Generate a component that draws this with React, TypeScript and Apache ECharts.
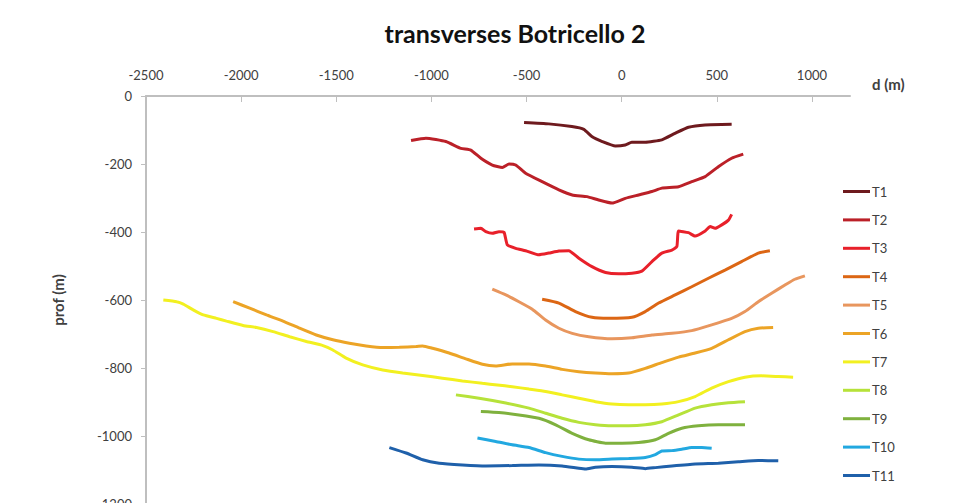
import React, { useEffect, useRef } from "react";
import * as echarts from "echarts";

const titleText = "transverses Botricello 2";
const xAxisName = "d (m)";
const yAxisName = "prof (m)";
const xTicks = [-2500, -2000, -1500, -1000, -500, 0, 500, 1000];
const yTicks = [0, -200, -400, -600, -800, -1000, -1200];
const names = ["T1", "T2", "T3", "T4", "T5", "T6", "T7", "T8", "T9", "T10", "T11"];
const colors = ["#6e1a1e", "#bb2028", "#e8202a", "#dc6614", "#e8965e", "#eca426", "#f2f020", "#b6e23a", "#7fb13e", "#22a8e0", "#1f60aa"];

const t1X = [-513, -383, -262, -199, -155, -102, -33, 19, 53, 124, 211, 280, 351, 438, 578];
const t1Y = [-78, -82, -90, -98, -120, -134, -147, -144, -136, -136, -129, -110, -92, -85, -83];

const t2X = [-1107, -1029, -924, -845, -793, -740, -680, -627, -592, -557, -505, -418, -330, -260, -182, -121, -51, 19, 89, 159, 211, 299, 368, 439, 508, 578, 639];
const t2Y = [-131, -124, -134, -154, -159, -183, -203, -210, -200, -203, -227, -252, -276, -291, -296, -306, -315, -301, -291, -281, -271, -267, -252, -237, -208, -183, -171];

const t3X = [-776, -740, -714, -680, -645, -618, -601, -557, -505, -435, -383, -330, -278, -225, -156, -85, -16, 54, 106, 159, 211, 264, 290, 299, 351, 386, 439, 465, 491, 526, 561, 578];
const t3Y = [-391, -389, -399, -404, -399, -401, -438, -448, -455, -467, -462, -456, -455, -477, -502, -519, -523, -521, -515, -487, -462, -453, -443, -397, -402, -412, -397, -384, -389, -379, -365, -348];

const t4X = [-418, -330, -243, -156, -68, 54, 124, 194, 281, 368, 456, 543, 630, 718, 779];
const t4Y = [-598, -609, -634, -651, -654, -651, -634, -609, -585, -561, -536, -512, -487, -462, -455];

const t5X = [-680, -609, -540, -470, -400, -330, -260, -173, -51, 54, 159, 264, 368, 473, 578, 648, 718, 788, 858, 910, 963];
const t5Y = [-568, -585, -605, -627, -659, -683, -698, -708, -714, -711, -703, -698, -690, -673, -654, -634, -605, -580, -556, -539, -529];

const t6X = [-2042, -1955, -1867, -1780, -1693, -1605, -1518, -1431, -1343, -1256, -1169, -1081, -1046, -994, -907, -819, -732, -662, -575, -487, -400, -313, -225, -138, -51, 37, 124, 211, 299, 386, 473, 561, 648, 718, 796];
const t6Y = [-605, -624, -644, -662, -683, -703, -717, -727, -735, -740, -739, -737, -735, -742, -756, -773, -789, -794, -788, -788, -794, -804, -811, -815, -817, -815, -801, -784, -768, -756, -742, -717, -693, -683, -681];

const t7X = [-2409, -2339, -2304, -2252, -2199, -2129, -2077, -1990, -1919, -1832, -1745, -1657, -1570, -1518, -1448, -1361, -1256, -1151, -1046, -942, -837, -732, -653, -575, -487, -400, -313, -225, -138, -51, 37, 124, 211, 299, 386, 473, 561, 648, 735, 823, 901];
const t7Y = [-600, -605, -612, -629, -644, -654, -662, -675, -681, -693, -708, -722, -734, -747, -771, -791, -806, -815, -822, -830, -838, -845, -850, -855, -862, -869, -879, -889, -899, -906, -908, -908, -906, -899, -884, -859, -840, -827, -823, -825, -827];

const t8X = [-871, -749, -609, -487, -400, -313, -225, -138, -51, 37, 124, 211, 299, 386, 473, 561, 648];
const t8Y = [-879, -889, -903, -918, -933, -948, -960, -967, -970, -970, -967, -958, -938, -918, -908, -902, -899];

const t9X = [-740, -645, -540, -435, -347, -260, -173, -85, 2, 89, 177, 246, 316, 403, 508, 648];
const t9Y = [-928, -931, -938, -948, -967, -992, -1011, -1021, -1021, -1019, -1011, -992, -977, -970, -967, -967];

const t10X = [-758, -662, -575, -487, -400, -313, -225, -138, -51, 37, 124, 177, 211, 264, 316, 368, 421, 473];
const t10Y = [-1006, -1016, -1026, -1034, -1049, -1060, -1068, -1070, -1068, -1066, -1063, -1055, -1044, -1043, -1039, -1034, -1034, -1036];

const t11X = [-1221, -1133, -1046, -959, -837, -714, -575, -435, -313, -225, -190, -138, -51, 54, 124, 177, 264, 386, 508, 613, 718, 823];
const t11Y = [-1034, -1050, -1070, -1080, -1085, -1088, -1087, -1085, -1088, -1095, -1097, -1092, -1090, -1092, -1096, -1093, -1088, -1082, -1080, -1076, -1072, -1073];

const allX = [t1X, t2X, t3X, t4X, t5X, t6X, t7X, t8X, t9X, t10X, t11X];
const allY = [t1Y, t2Y, t3Y, t4Y, t5Y, t6Y, t7Y, t8Y, t9Y, t10Y, t11Y];

const FONT = "Lato, 'Open Sans', sans-serif";

export default function App() {
  const ref = useRef<HTMLDivElement>(null);
  useEffect(() => {
    if (!ref.current) return;
    const chart = echarts.init(ref.current, undefined, { renderer: "svg" });
    const series = names.map((n, i) => ({
      name: n,
      type: "line",
      data: allX[i].map((x, j) => [x, allY[i][j]]),
      showSymbol: false,
      symbol: "none",
      smooth: 0.15,
      lineStyle: { color: colors[i], width: 3 },
      itemStyle: { color: colors[i] },
      z: 2,
    }));
    chart.setOption({
      animation: false,
      backgroundColor: "#ffffff",
      title: {
        text: titleText,
        left: 510,
        textAlign: "center",
        top: 15,
        textStyle: { fontFamily: FONT, fontSize: 25, fontWeight: "bold", color: "#111" },
      },
      grid: { left: 146, right: 106, top: 96, bottom: -1, containLabel: false, outerBoundsMode: "none" },
      legend: {
        orient: "vertical",
        left: 838,
        top: 180,
        itemWidth: 27,
        itemHeight: 3,
        itemGap: 15.4,
        icon: "rect",
        data: names,
        textStyle: { fontFamily: FONT, fontSize: 13, color: "#404040", padding: [0, 0, 0, -3] },
      },
      xAxis: {
        type: "value",
        position: "top",
        min: -2500,
        max: 1200,
        interval: 500,
        splitLine: { show: false },
        axisLine: { show: true, onZero: false, lineStyle: { color: "#bfbfbf", width: 2 } },
        axisTick: { show: true, inside: true, length: 6, customValues: xTicks, lineStyle: { color: "#bfbfbf", width: 1 } },
        axisLabel: { customValues: xTicks, margin: 15, fontFamily: FONT, fontSize: 13, color: "#404040", formatter: (v: number) => String(v) },
      },
      yAxis: {
        type: "value",
        min: -1200,
        max: 0,
        interval: 200,
        name: yAxisName,
        nameLocation: "middle",
        nameRotate: 90,
        nameGap: 81,
        nameTextStyle: { fontFamily: FONT, fontSize: 15, fontWeight: "bold", color: "#404040" },
        splitLine: { show: false },
        axisLine: { show: true, onZero: false, lineStyle: { color: "#bfbfbf", width: 2 } },
        axisTick: { show: true, length: 5, customValues: yTicks, lineStyle: { color: "#bfbfbf", width: 1 } },
        axisLabel: { customValues: yTicks, margin: 14, fontFamily: FONT, fontSize: 13, color: "#404040", formatter: (v: number) => String(v) },
      },
      graphic: [
        {
          type: "text",
          left: 872,
          top: 76,
          style: { text: xAxisName, fontFamily: FONT, fontSize: 15, fontWeight: "bold", fill: "#404040" },
        },
      ],
      series,
    });
    return () => chart.dispose();
  }, []);
  return (
    <div
      ref={ref}
      style={{ position: "absolute", left: 0, top: 0, width: 956, height: 503, overflow: "hidden", background: "#fff" }}
    />
  );
}
